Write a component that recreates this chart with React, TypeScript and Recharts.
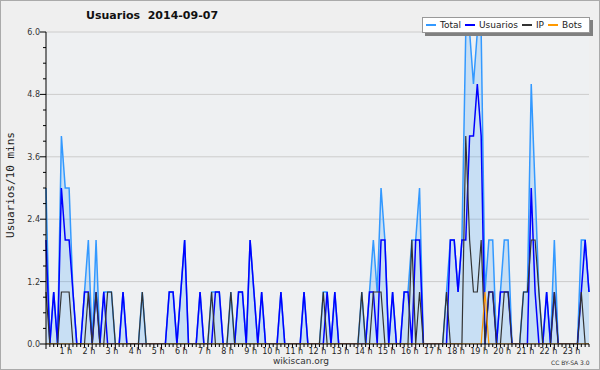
import { ComposedChart, Area, Line, XAxis, YAxis, CartesianGrid, Legend } from "recharts"

const FONT = "'DejaVu Sans', sans-serif"

const hourLabels = [
  "1 h", "2 h", "3 h", "4 h", "5 h", "6 h", "7 h", "8 h", "9 h", "10 h", "11 h", "12 h",
  "13 h", "14 h", "15 h", "16 h", "17 h", "18 h", "19 h", "20 h", "21 h", "22 h", "23 h",
]

const seriesOrder = ["Total", "Usuarios", "IP", "Bots"]

const yTicks = [0, 0.3, 0.6, 0.9, 1.2, 1.5, 1.8, 2.1, 2.4, 2.7, 3.0, 3.3, 3.6, 3.9, 4.2, 4.5, 4.8, 5.1, 5.4, 5.7, 6.0]
const gridValues = [1.2, 2.4, 3.6, 4.8, 6.0]

// one value per 10 minutes, 00:00 .. 23:30
const total = [
  3, 0, 1, 0, 4, 3, 3, 1, 0, 0, 1, 2,
  0, 2, 0, 1, 1, 1, 0, 0, 1, 0, 0, 0,
  0, 1, 0, 0, 0, 0, 0, 0, 1, 1, 0, 1,
  2, 0, 0, 0, 1, 0, 0, 1, 1, 1, 0, 0,
  1, 0, 1, 1, 0, 2, 1, 0, 1, 0, 0, 0,
  0, 1, 0, 0, 0, 0, 0, 1, 0, 0, 0, 0,
  1, 1, 0, 1, 0, 0, 0, 0, 0, 0, 1, 0,
  1, 2, 1, 3, 2, 0, 1, 0, 0, 1, 1, 2,
  2, 3, 0, 0, 0, 0, 0, 0, 1, 2, 2, 1,
  2, 6, 6, 5, 6, 6, 1, 2, 2, 0, 1, 2,
  2, 0, 0, 0, 1, 1, 5, 3, 1, 0, 1, 0,
  2, 0, 0, 0, 0, 0, 0, 2, 2, 1,
]

const usuarios = [
  2, 0, 1, 0, 3, 2, 2, 1, 0, 0, 1, 1,
  0, 1, 0, 1, 0, 0, 0, 0, 1, 0, 0, 0,
  0, 0, 0, 0, 0, 0, 0, 0, 1, 1, 0, 1,
  2, 0, 0, 0, 1, 0, 0, 0, 1, 1, 0, 0,
  0, 0, 1, 1, 0, 2, 1, 0, 1, 0, 0, 0,
  0, 1, 0, 0, 0, 0, 0, 1, 0, 0, 0, 0,
  0, 1, 0, 1, 0, 0, 0, 0, 0, 0, 0, 0,
  1, 1, 0, 2, 2, 0, 1, 0, 0, 1, 1, 0,
  2, 2, 0, 0, 0, 0, 0, 0, 0, 2, 2, 1,
  2, 2, 4, 4, 5, 4, 0, 1, 1, 0, 1, 1,
  1, 0, 0, 0, 0, 0, 3, 1, 0, 0, 1, 0,
  1, 0, 0, 0, 0, 0, 0, 1, 2, 1,
]

const ip = [
  1, 0, 0, 0, 1, 1, 1, 0, 0, 0, 0, 1,
  0, 1, 0, 0, 1, 1, 0, 0, 0, 0, 0, 0,
  0, 1, 0, 0, 0, 0, 0, 0, 0, 0, 0, 0,
  0, 0, 0, 0, 0, 0, 0, 1, 0, 0, 0, 0,
  1, 0, 0, 0, 0, 0, 0, 0, 0, 0, 0, 0,
  0, 0, 0, 0, 0, 0, 0, 0, 0, 0, 0, 0,
  1, 0, 0, 0, 0, 0, 0, 0, 0, 0, 1, 0,
  0, 1, 1, 1, 0, 0, 0, 0, 0, 0, 0, 2,
  0, 1, 0, 0, 0, 0, 0, 0, 1, 0, 0, 0,
  0, 4, 2, 1, 1, 2, 0, 1, 1, 0, 0, 1,
  1, 0, 0, 0, 1, 1, 2, 2, 1, 0, 0, 0,
  1, 0, 0, 0, 0, 0, 0, 1, 0, 0,
]

const bots = [
  0, 0, 0, 0, 0, 0, 0, 0, 0, 0, 0, 0,
  0, 0, 0, 0, 0, 0, 0, 0, 0, 0, 0, 0,
  0, 0, 0, 0, 0, 0, 0, 0, 0, 0, 0, 0,
  0, 0, 0, 0, 0, 0, 0, 0, 0, 0, 0, 0,
  0, 0, 0, 0, 0, 0, 0, 0, 0, 0, 0, 0,
  0, 0, 0, 0, 0, 0, 0, 0, 0, 0, 0, 0,
  0, 0, 0, 0, 0, 0, 0, 0, 0, 0, 0, 0,
  0, 0, 0, 0, 0, 0, 0, 0, 0, 0, 0, 0,
  0, 0, 0, 0, 0, 0, 0, 0, 0, 0, 0, 0,
  0, 0, 0, 0, 0, 0, 1, 0, 0, 0, 0, 0,
  0, 0, 0, 0, 0, 0, 0, 0, 0, 0, 0, 0,
  0, 0, 0, 0, 0, 0, 0, 0, 0, 0,
]

const data = total.map((t, i) => ({ slot: i, total: t, usuarios: usuarios[i], ip: ip[i], bots: bots[i] }))
const slots = data.map((d) => d.slot)

function XTick(props: any) {
  const { x, y, payload } = props
  const v = payload.value
  const hour = v % 6 === 0
  const label = hour && v > 0 ? hourLabels[v / 6 - 1] : null
  return (
    <g>
      <line x1={x} x2={x} y1={y} y2={y + (hour ? 5 : 3)} stroke="#000" strokeWidth={1} />
      {label && (
        <text x={x + 3} y={y + 10} textAnchor="end" fontSize={8} fontFamily={FONT} fill="#222">
          {label}
        </text>
      )}
    </g>
  )
}

function YTick(props: any) {
  const { x, y, payload } = props
  const v = payload.value
  const major = Math.round(v * 10) % 12 === 0
  return (
    <g>
      <line x1={x - (major ? 6 : 3)} x2={x} y1={y} y2={y} stroke="#000" strokeWidth={1} />
      {major && (
        <text x={x - 6} y={y + 3} textAnchor="end" fontSize={8} fontFamily={FONT} fill="#333">
          {v.toFixed(1)}
        </text>
      )}
    </g>
  )
}

function LegendBox({ payload }: any) {
  const items = [...(payload || [])].sort((a: any, b: any) => seriesOrder.indexOf(a.value) - seriesOrder.indexOf(b.value))
  return (
    <div
      style={{
        width: 163,
        height: 14,
        paddingLeft: 3,
        background: "#fff",
        border: "1px solid #999",
        boxShadow: "3px 3px 0 #808080",
        display: "flex",
        alignItems: "center",
        fontFamily: FONT,
        fontSize: 9,
        color: "#222",
        whiteSpace: "nowrap",
      }}
    >
      {items.map((p: any) => (
        <span key={p.value} style={{ display: "inline-flex", alignItems: "center", marginRight: 4 }}>
          <span style={{ display: "inline-block", width: 10, height: 1.5, background: p.color, marginRight: 4 }} />
          {p.value}
        </span>
      ))}
    </div>
  )
}

export default function App() {
  return (
    <div
      style={{
        position: "absolute",
        left: 0,
        top: 0,
        width: 600,
        height: 370,
        boxSizing: "border-box",
        border: "1px solid #aaa",
        background: "#efefef",
        fontFamily: FONT,
      }}
    >
      <div style={{ position: "absolute", left: 85, top: 8, fontSize: 11, fontWeight: "bold", color: "#111", whiteSpace: "pre" }}>
        {"Usuarios  2014-09-07"}
      </div>
      <div
        style={{
          position: "absolute",
          left: 9,
          top: 184,
          transform: "translate(-50%, -50%) rotate(-90deg)",
          fontFamily: "'DejaVu Sans Mono', monospace",
          fontSize: 11,
          color: "#222",
          whiteSpace: "nowrap",
        }}
      >
        Usuarios/10 mins
      </div>
      <div style={{ position: "absolute", left: 0, width: 600, top: 355, textAlign: "center", fontSize: 9, color: "#333" }}>
        wikiscan.org
      </div>
      <div style={{ position: "absolute", left: 550, top: 358, fontSize: 6, color: "#333" }}>CC BY-SA 3.0</div>
      <div style={{ position: "absolute", left: -1, top: -1 }}>
        <ComposedChart width={600} height={370} data={data} margin={{ top: 32, right: 11, left: 0, bottom: 0 }}>
          <CartesianGrid vertical={false} horizontalValues={gridValues} stroke="#cccccc" fill="#eef0f2" />
          <XAxis
            dataKey="slot"
            type="number"
            domain={[0, 141]}
            ticks={slots}
            interval={0}
            tickSize={0}
            tickMargin={0}
            tick={<XTick />}
            height={26}
            axisLine={{ stroke: "#000" }}
          />
          <YAxis
            type="number"
            domain={[0, 6]}
            ticks={yTicks}
            interval={0}
            allowDataOverflow
            tickSize={0}
            tickMargin={0}
            tick={<YTick />}
            width={46}
            axisLine={{ stroke: "#000" }}
          />
          <Legend
            layout="horizontal"
            verticalAlign="middle"
            content={<LegendBox />}
            wrapperStyle={{ top: 17, left: 422, width: 172 }}
          />
          <Area
            type="linear"
            dataKey="total"
            name="Total"
            stroke="#3399ff"
            strokeWidth={1.5}
            fill="#3399ff"
            fillOpacity={0.2}
            dot={false}
            activeDot={false}
            isAnimationActive={false}
          />
          <Line type="linear" dataKey="usuarios" name="Usuarios" stroke="#0000ff" strokeWidth={1.5} dot={false} activeDot={false} isAnimationActive={false} />
          <Line type="linear" dataKey="ip" name="IP" stroke="#333333" strokeWidth={1.2} dot={false} activeDot={false} isAnimationActive={false} />
          <Line type="linear" dataKey="bots" name="Bots" stroke="#ff9900" strokeWidth={1.2} dot={false} activeDot={false} isAnimationActive={false} />
        </ComposedChart>
      </div>
    </div>
  )
}
